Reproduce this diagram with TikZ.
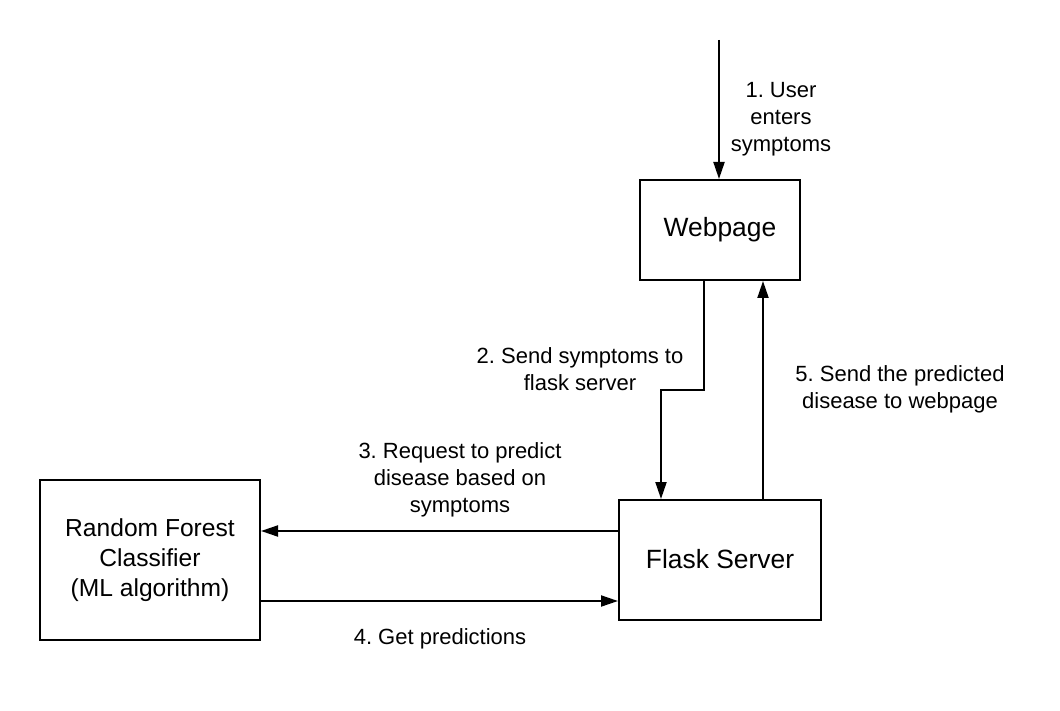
\documentclass[tikz,border=0pt]{standalone}
\usepackage{fontspec}
\setmainfont{Liberation Sans}
\usetikzlibrary{arrows.meta}
\frenchspacing
\begin{document}
\begin{tikzpicture}[x=1pt,y=-1pt,
  box/.style={draw=black,line width=2pt,minimum width=#1,inner sep=0pt,font=\fontsize{26.4}{30}\selectfont,align=center},
  lbl/.style={font=\fontsize{22}{26.8}\selectfont,align=center,inner sep=0pt},
  conn/.style={line width=2pt,-{Triangle[length=17pt,width=11pt]}}]
\useasboundingbox (0,0) rectangle (1060,711);
\node[box=160pt,minimum height=100pt] (web) at (720,230) {Webpage};
\node[box=202pt,minimum height=120pt] (flask) at (720,560) {\raisebox{3pt}{Flask Server}};
\node[box=220pt,minimum height=160pt,font=\fontsize{24.6}{30}\selectfont] (rf) at (150,560) {Random Forest\\Classifier\\(ML algorithm)};
\coordinate (start) at (719,40);
\coordinate (bend1) at (704,390);
\coordinate (bend2) at (661,390);
\draw[conn] (start) -- (start |- web.north);
\draw[conn] (bend1 |- web.south) -- (bend1) -- (bend2) -- (bend2 |- flask.north);
\draw[conn] (763,0 |- flask.north) -- (763,0 |- web.south);
\draw[conn] (flask.west |- 0,531) -- (rf.east |- 0,531);
\draw[conn] (rf.east |- 0,601) -- (flask.west |- 0,601);
\node[lbl] (l1) at (781,119) {1. User\\enters\\symptoms};
\node[lbl] (l2) at (580,369) {2. Send symptoms to\\flask server};
\node[lbl] (l3) at (460,480) {3. Request to predict\\disease based on\\symptoms};
\node[lbl] (l4) at (440,639) {4. Get predictions};
\node[lbl] (l5) at (900,389) {5. Send the predicted\\disease to webpage};
\end{tikzpicture}
\end{document}
